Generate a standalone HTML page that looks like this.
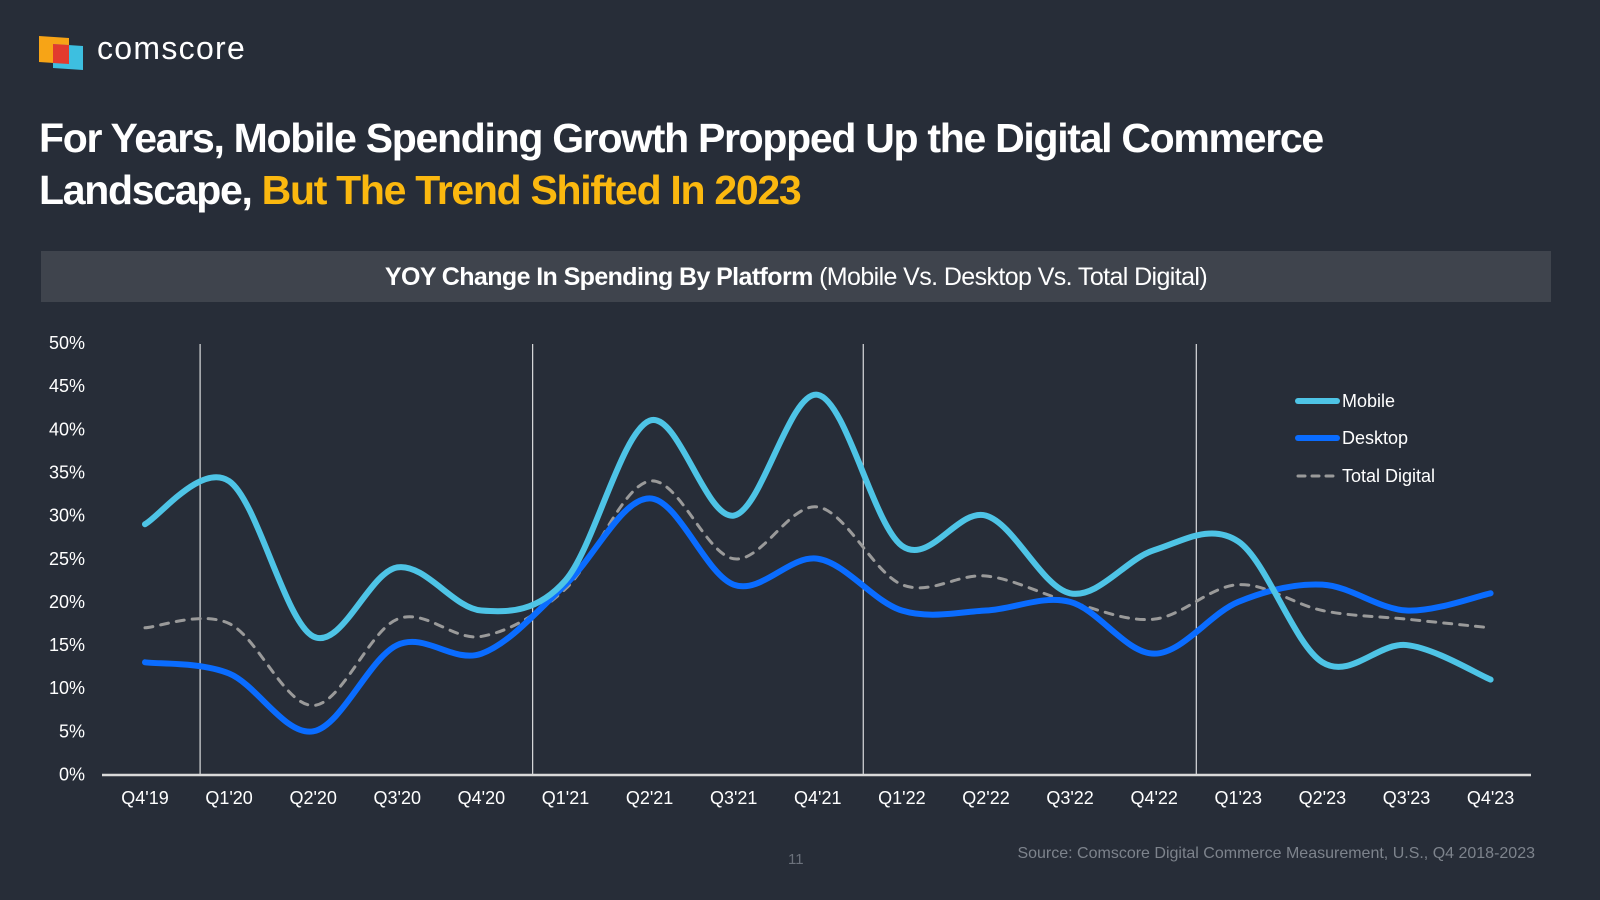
<!DOCTYPE html>
<html><head><meta charset="utf-8"><style>
body{margin:0;background:#272d38;width:1600px;height:900px;overflow:hidden;font-family:"Liberation Sans",sans-serif;position:relative}
.abs{position:absolute}
h1{position:absolute;left:39px;top:112px;margin:0;font-size:41px;line-height:52px;color:#fff;font-weight:bold;letter-spacing:-1.3px}
</style></head><body>
<div class="abs" style="left:39px;top:36px;width:44px;height:34px">
<svg width="44" height="34"><polygon points="0,0 30,2 30,28 0,26" fill="#f7a416"/><polygon points="14,8 44,10 44,34 14,32" fill="#3dbfe0"/><polygon points="14,8 30,9 30,28 14,27" fill="#e23b2e"/></svg></div>
<div class="abs" style="left:97px;top:30px;font-size:32px;color:#fff;letter-spacing:1.3px">comscore</div>
<h1>For Years, Mobile Spending Growth Propped Up the Digital Commerce<br>Landscape, <span style="color:#fbb80f">But The Trend Shifted In 2023</span></h1>
<div class="abs" style="left:41px;top:251px;width:1510px;height:51px;background:#3f444d;color:#fff;font-size:25px;line-height:53px;text-align:center;letter-spacing:-0.6px"><b>YOY Change In Spending By Platform</b> (Mobile Vs. Desktop Vs. Total Digital)</div>
<svg class="abs" style="left:0;top:0" width="1600" height="900" id="chart"></svg>
<div class="abs" style="left:788px;top:851px;font-size:15px;color:#6b717b">11</div>
<div class="abs" style="right:65px;top:845px;font-size:16px;color:#7d838c">Source: Comscore Digital Commerce Measurement, U.S., Q4 2018-2023</div>
<script>
const categories=["Q4'19","Q1'20","Q2'20","Q3'20","Q4'20","Q1'21","Q2'21","Q3'21","Q4'21","Q1'22","Q2'22","Q3'22","Q4'22","Q1'23","Q2'23","Q3'23","Q4'23"];
const mobile=[29,34,16,24,19,22.5,41,30,44,26.5,30,21,26,27,13,15,11];
const desktop=[13,11.7,5,15,14,22,32,22,25,19,19,20,14,20,22,19,21];
const total=[17,17.5,8,18,16,21.5,34,25,31,22,23,20,18,22,19,18,17];
const yTicks=[0,5,10,15,20,25,30,35,40,45,50];
const NS="http://www.w3.org/2000/svg",svg=document.getElementById('chart');
const x=i=>145+i*84.1, y=v=>774.5-v*(774.5-343)/50;
function mk(t,a,p){const e=document.createElementNS(NS,t);for(const k in a)e.setAttribute(k,a[k]);(p||svg).appendChild(e);return e;}
yTicks.forEach(v=>{const t=mk('text',{x:85,y:y(v)+6,'text-anchor':'end',fill:'#fff','font-size':18});t.textContent=v+'%';

});
categories.forEach((c,i)=>{const t=mk('text',{x:x(i),y:804,'text-anchor':'middle',fill:'#fff','font-size':18});t.textContent=c;

});
[0.655,4.61,8.54,12.5].forEach(f=>{const l=mk('line',{x1:x(f),x2:x(f),y1:344,y2:774,stroke:'#fff','stroke-width':1});

});
const ax=mk('line',{x1:102,x2:1531,y1:775,y2:775,stroke:'#d9d9d9','stroke-width':2.5});


function path(d){const p=d.map((v,i)=>[x(i),y(v)]);let s=`M${p[0][0]},${p[0][1]}`;
for(let i=0;i<p.length-1;i++){const a=p[i-1]||p[i],b=p[i],c=p[i+1],e=p[i+2]||c;
s+=` C${b[0]+(c[0]-a[0])/6},${b[1]+(c[1]-a[1])/6} ${c[0]-(e[0]-b[0])/6},${c[1]-(e[1]-b[1])/6} ${c[0]},${c[1]}`;}return s;}
const series=[[total,'#9a9a9a',3,'8 8','total-digital-line'],[desktop,'#0a6cff',6,null,'desktop-line'],[mobile,'#4ec4e6',6,null,'mobile-line']];
series.forEach(([d,col,w,da,n])=>{const a={d:path(d),fill:'none',stroke:col,'stroke-width':w,'stroke-linecap':'round'};if(da)a['stroke-dasharray']=da;const p=mk('path',a);

});
[['Mobile','#4ec4e6',6,null,401],['Desktop','#0a6cff',6,null,438],['Total Digital','#9a9a9a',3,'7 7',476]].forEach(([t,col,w,da,yy])=>{
const g=mk('g',{});


const a={x1:1298,x2:1337,y1:yy,y2:yy,stroke:col,'stroke-width':w,'stroke-linecap':'round'};if(da)a['stroke-dasharray']=da;mk('line',a,g);
const tx=mk('text',{x:1342,y:yy+6,fill:'#fff','font-size':18},g);tx.textContent=t;});
</script>
</body></html>
